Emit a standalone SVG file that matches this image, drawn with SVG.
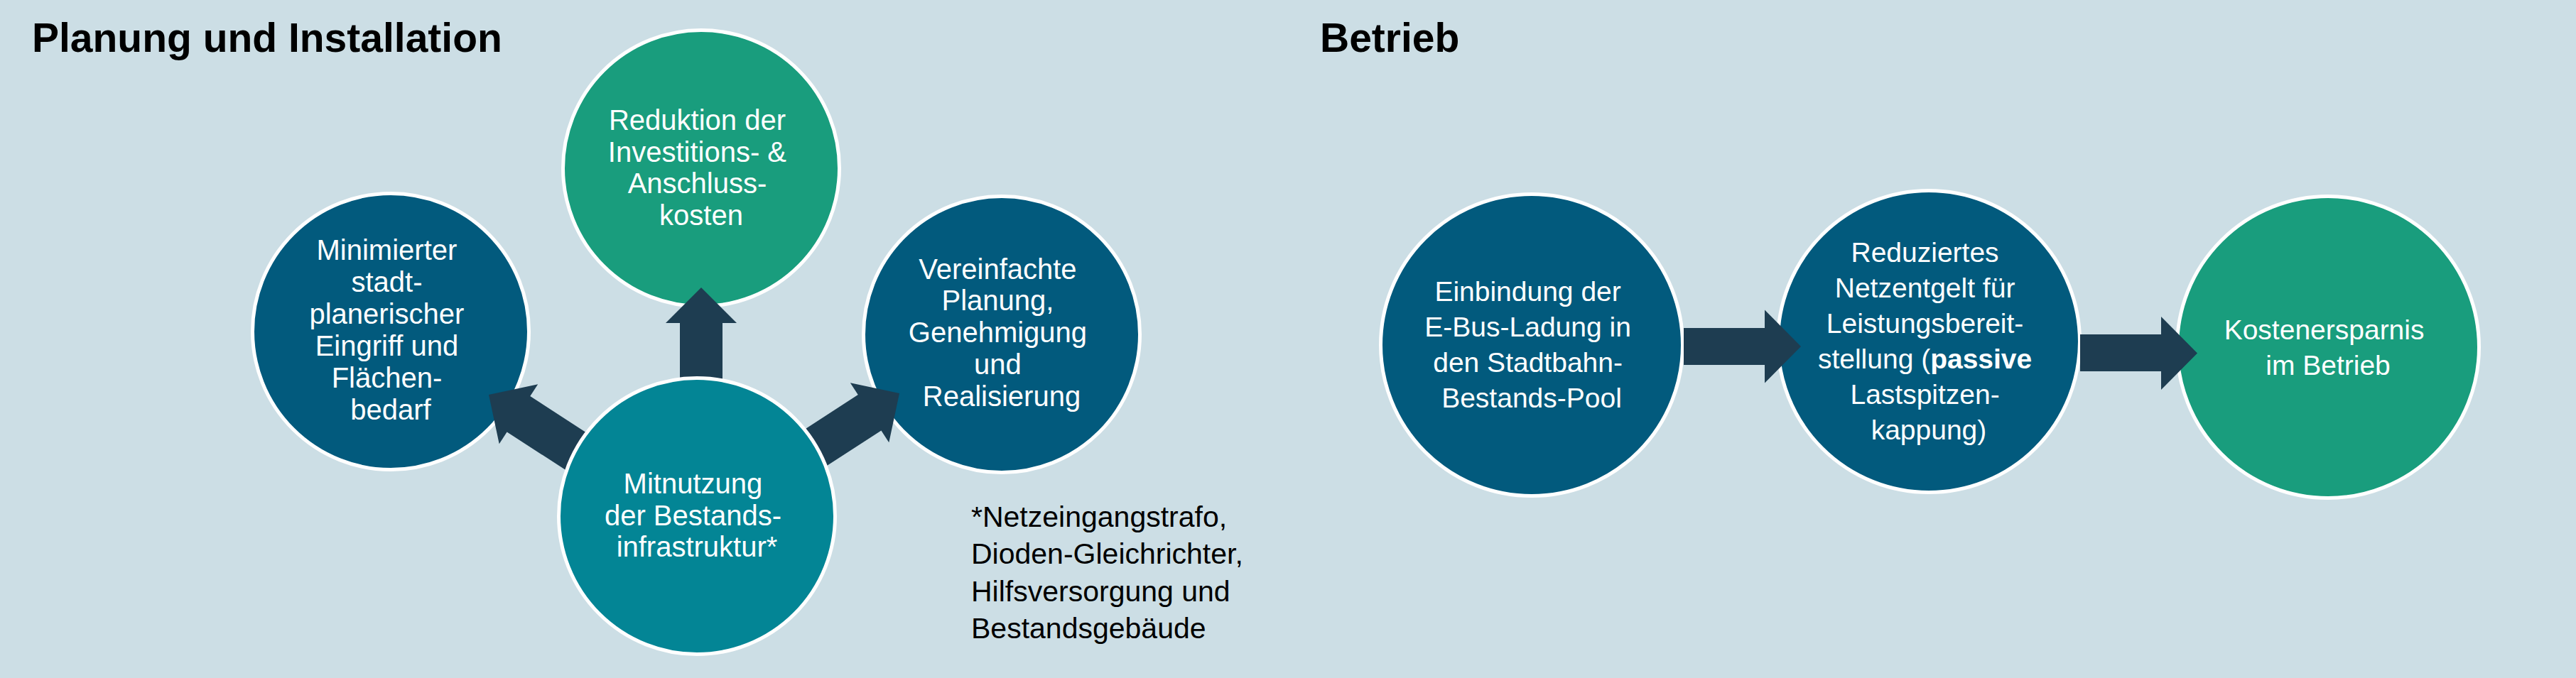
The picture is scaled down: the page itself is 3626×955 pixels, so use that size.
<svg xmlns="http://www.w3.org/2000/svg" xmlns:xlink="http://www.w3.org/1999/xlink" width="3626" height="955" viewBox="0 0 3626 955">
  <style>
    .title { font-family: "Liberation Sans", Arial, sans-serif; font-weight: bold; font-size: 57px; fill: #000000; }
    .node { stroke: #FFFFFF; stroke-width: 5; }
    .blue { fill: #025A7D; }
    .green { fill: #199D7D; }
    .teal { fill: #038595; }
    .lbl { font-family: "Liberation Sans", Arial, sans-serif; font-size: 40px; fill: #FFFFFF; text-anchor: middle; }
    .lbl2 { font-family: "Liberation Sans", Arial, sans-serif; font-size: 39px; fill: #FFFFFF; text-anchor: middle; }
    .note { font-family: "Liberation Sans", Arial, sans-serif; font-size: 41px; fill: #000000; }
    .arrow { fill: #1E3D51; }
  </style>
  <defs>
    <path id="arrowPlan" d="M0,0 L-50,-50 L-50,-30 L-160,-30 L-160,30 L-50,30 L-50,50 Z"/>
  </defs>

  <rect x="0" y="0" width="3626" height="955" fill="#CCDEE5"/>

  <text class="title" x="45" y="73">Planung und Installation</text>
  <text class="title" x="1858" y="73">Betrieb</text>

  <g id="node-minimierter">
    <circle class="node blue" cx="550" cy="467" r="194.5"/>
    <text class="lbl" x="550">
      <tspan x="550" y="366">Minimierter</tspan>
      <tspan x="550" y="411">stadt-</tspan>
      <tspan x="550" y="456">planerischer</tspan>
      <tspan x="550" y="501">Eingriff und</tspan>
      <tspan x="550" y="546">Flächen-</tspan>
      <tspan x="550" y="591">bedarf</tspan>
    </text>
  </g>

  <g id="node-reduktion">
    <circle class="node green" cx="987" cy="237" r="194.5"/>
    <text class="lbl">
      <tspan x="987" y="183">Reduktion der</tspan>
      <tspan x="987" y="228">Investitions- &amp;</tspan>
      <tspan x="987" y="272">Anschluss-</tspan>
      <tspan x="987" y="317">kosten</tspan>
    </text>
  </g>

  <g id="node-vereinfachte">
    <circle class="node blue" cx="1410" cy="471" r="194.5"/>
    <text class="lbl">
      <tspan x="1410" y="393">Vereinfachte</tspan>
      <tspan x="1410" y="437">Planung,</tspan>
      <tspan x="1410" y="482">Genehmigung</tspan>
      <tspan x="1410" y="527">und</tspan>
      <tspan x="1410" y="572">Realisierung</tspan>
    </text>
  </g>

  <g id="node-einbindung">
    <circle class="node blue" cx="2156" cy="486" r="212.5"/>
    <text class="lbl2">
      <tspan x="2156" y="424">Einbindung der</tspan>
      <tspan x="2156" y="474">E-Bus-Ladung in</tspan>
      <tspan x="2156" y="524">den Stadtbahn-</tspan>
      <tspan x="2156" y="574">Bestands-Pool</tspan>
    </text>
  </g>

  <g id="node-reduziertes">
    <circle class="node blue" cx="2715" cy="481" r="212.5"/>
    <text class="lbl2">
      <tspan x="2715" y="369">Reduziertes</tspan>
      <tspan x="2715" y="419">Netzentgelt für</tspan>
      <tspan x="2715" y="469">Leistungsbereit-</tspan>
      <tspan x="2715" y="519">stellung (<tspan font-weight="bold">passive</tspan></tspan>
      <tspan x="2715" y="569">Lastspitzen-</tspan>
      <tspan x="2715" y="619">kappung)</tspan>
    </text>
  </g>

  <g id="node-kostenersparnis">
    <circle class="node green" cx="3277" cy="489" r="212.5"/>
    <text class="lbl2">
      <tspan x="3277" y="478">Kostenersparnis</tspan>
      <tspan x="3277" y="528">im Betrieb</tspan>
    </text>
  </g>

  <g id="connectors">
    <use xlink:href="#arrowPlan" href="#arrowPlan" class="arrow" transform="translate(987,405) rotate(-90)"/>
    <use xlink:href="#arrowPlan" href="#arrowPlan" class="arrow" transform="translate(688,556) rotate(213)"/>
    <use xlink:href="#arrowPlan" href="#arrowPlan" class="arrow" transform="translate(1266,554) rotate(-33)"/>
    <polygon class="arrow" points="2370,462 2484,462 2484,436.5 2535,488 2484,539.5 2484,514 2370,514"/>
    <polygon class="arrow" points="2928,471 3042,471 3042,446 3093,497.5 3042,549 3042,523 2928,523"/>
  </g>

  <g id="node-mitnutzung">
    <circle class="node teal" cx="981" cy="727" r="194.5"/>
    <text class="lbl">
      <tspan x="981" y="695">Mitnutzung</tspan>
      <tspan x="981" y="740">der Bestands-</tspan>
      <tspan x="981" y="784">infrastruktur*</tspan>
    </text>
  </g>

  <g id="footnote">
    <text class="note">
      <tspan x="1367" y="742">*Netzeingangstrafo,</tspan>
      <tspan x="1367" y="794">Dioden-Gleichrichter,</tspan>
      <tspan x="1367" y="847">Hilfsversorgung und</tspan>
      <tspan x="1367" y="899">Bestandsgebäude</tspan>
    </text>
  </g>
</svg>
